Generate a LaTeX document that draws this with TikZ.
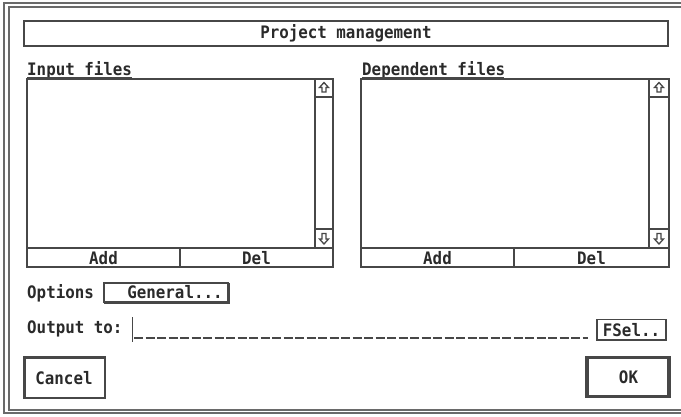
\documentclass[tikz,border=0pt]{standalone}
\usepackage{fontspec}
\setmonofont{DejaVu Sans Mono}
\newfontfamily\gemfont{DejaVu Sans Mono}[FakeStretch=0.92]
\begin{document}
\begin{tikzpicture}[x=1pt,y=-1pt,
  line/.style={draw=linegray,line width=1.5pt},
  thin/.style={draw=linegray,line width=1.2pt},
  lbl/.style={inner sep=0pt,text=textgray,font=\gemfont\bfseries\fontsize{17.2}{17}\selectfont},
  arrowglyph/.style={draw=linegray,line width=1.3pt,fill=white,line join=miter}]
\definecolor{linegray}{HTML}{474747}
\definecolor{textgray}{HTML}{2A2A2A}
\definecolor{framegray}{HTML}{6A6A6A}
\useasboundingbox (0,0) rectangle (681,416);
\begin{scope}
\clip (0,0) rectangle (681,416);
% outer double frame
\draw[draw=framegray,line width=1.3pt] (4,3) rectangle (690,413);
\draw[draw=framegray,line width=1.3pt] (9,7) rectangle (685,410);
\end{scope}
% title box
\draw[thin] (24,21) rectangle (668,46);
\node[lbl] (title) at (346,33.5) {Project management};
% Input files
\node[lbl,anchor=base west] (inlbl) at (27,75.5) {Input files};
\draw[draw=linegray,line width=1.2pt] (27,77.5) -- (132,77.5);
\draw[line] (27,79) rectangle (333,248);
\draw[draw=linegray,line width=2pt] (315,79) -- (315,248);
\draw[line] (315,97) -- (333,97);
\draw[line] (315,229) -- (333,229);
\draw[line] (27,248) rectangle (333,267);
\draw[line] (180,248) -- (180,267);
\node[lbl] (inadd) at (103.5,258) {Add};
\node[lbl] (indel) at (256.5,258) {Del};
\draw[arrowglyph] (324,82.5) -- (328.5,87.5) -- (326,87.5) -- (326,92) -- (322,92) -- (322,87.5) -- (319.5,87.5) -- cycle;
\draw[arrowglyph] (324,244) -- (328.5,239) -- (326,239) -- (326,233.5) -- (322,233.5) -- (322,239) -- (319.5,239) -- cycle;
% Dependent files
\node[lbl,anchor=base west] (deplbl) at (362,75.5) {Dependent files};
\draw[draw=linegray,line width=1.2pt] (362,77.5) -- (504,77.5);
\draw[line] (361,79) rectangle (669,248);
\draw[draw=linegray,line width=2pt] (649,79) -- (649,248);
\draw[line] (649,97) -- (669,97);
\draw[line] (649,229) -- (669,229);
\draw[line] (361,248) rectangle (669,267);
\draw[line] (514,248) -- (514,267);
\node[lbl] (depadd) at (437.5,258) {Add};
\node[lbl] (depdel) at (591.5,258) {Del};
\draw[arrowglyph] (659,82.5) -- (663.5,87.5) -- (661,87.5) -- (661,92) -- (657,92) -- (657,87.5) -- (654.5,87.5) -- cycle;
\draw[arrowglyph] (659,244) -- (663.5,239) -- (661,239) -- (661,233.5) -- (657,233.5) -- (657,239) -- (654.5,239) -- cycle;
% Options
\node[lbl,anchor=west] (optlbl) at (27,293) {Options};
\draw[thin] (104,283) rectangle (228,302);
\draw[draw=linegray,line width=2.2pt] (228.5,283) -- (228.5,303) -- (104,303);
\node[lbl] (general) at (175,292.5) {General...};
% Output to
\node[lbl,anchor=west] (outlbl) at (27,329) {Output to:};
\coordinate (cur1) at (132.5,317);
\coordinate (cur2) at (132.5,342);
\draw[draw=linegray,line width=1.3pt] (cur1) -- (cur2);
\coordinate (dash1) at (134,338);
\coordinate (dash2) at (588,338);
\draw[draw=linegray,line width=1.8pt,dash pattern=on 9pt off 2.5pt] (dash1) -- (dash2);
\draw[draw=linegray,line width=1.8pt] (597,319.5) rectangle (666,340);
\node[lbl] (fsel) at (631.5,330) {FSel..};
% Buttons
\draw[draw=linegray,line width=2.2pt] (24.5,357.5) rectangle (105,398);
\node[lbl] (cancel) at (64,378) {Cancel};
\draw[draw=linegray,line width=3.2pt] (587,357.5) rectangle (669,396.5);
\node[lbl] (ok) at (628.5,377.5) {OK};
\end{tikzpicture}
\end{document}
